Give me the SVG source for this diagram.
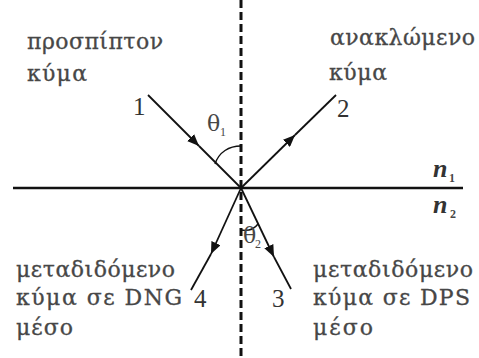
<svg xmlns="http://www.w3.org/2000/svg" width="479" height="358" viewBox="0 0 479 358">
<style>
.t{font-family:"DejaVu Serif","Liberation Serif",serif;font-size:22px;fill:#474747;stroke:#474747;stroke-width:0.3}
.d{font-family:"Liberation Serif","DejaVu Serif",serif;font-size:25px;fill:#333}
.th{font-family:"DejaVu Serif","Liberation Serif",serif;font-size:22px;fill:#474747}
.sub{font-family:"Liberation Serif","DejaVu Serif",serif;font-size:12px;fill:#474747}
.n{font-family:"Liberation Serif","DejaVu Serif",serif;font-size:26px;font-style:italic;font-weight:bold;fill:#333}
.ray{stroke:#111;stroke-width:1.8;fill:none}
.arc{stroke:#111;stroke-width:1.4;fill:none}
</style>
<defs>
<marker id="ah" viewBox="0 0 12 10" refX="12" refY="5" markerWidth="12" markerHeight="10" markerUnits="userSpaceOnUse" orient="auto">
<path d="M0,0 L12,5 L0,10 Z" fill="#111"/>
</marker>
</defs>
<rect width="479" height="358" fill="#fff"/>
<g id="axes">
<line x1="241" y1="0" x2="241" y2="358" stroke="#111" stroke-width="3" stroke-dasharray="8 4"/>
<line x1="13" y1="188" x2="463" y2="188" stroke="#111" stroke-width="2.6"/>
</g>
<g id="connectors">
<path class="ray" d="M148,95 L199,146" marker-end="url(#ah)"/>
<line class="ray" x1="199" y1="146" x2="241" y2="188"/>
<path class="ray" d="M241,188 L295,135" marker-end="url(#ah)"/>
<line class="ray" x1="295" y1="135" x2="336" y2="95"/>
<path class="ray" d="M241,188 L211,254" marker-end="url(#ah)"/>
<line class="ray" x1="211" y1="254" x2="191" y2="290"/>
<path class="ray" d="M241,188 L274,257" marker-end="url(#ah)"/>
<line class="ray" x1="274" y1="257" x2="291" y2="289"/>
<path class="arc" d="M215,164 C219,152 229,146 241,146"/>
<path class="arc" d="M241,230 Q252,232 258,224"/>
</g>
<g id="incident">
<text class="t" x="27" y="49" textLength="136">προσπίπτον</text>
<text class="t" x="27" y="81" textLength="60">κύμα</text>
<text class="d" x="133" y="115">1</text>
</g>
<g id="reflected">
<text class="t" x="330" y="45" textLength="145">ανακλώμενο</text>
<text class="t" x="329" y="80" textLength="58">κύμα</text>
<text class="d" x="337" y="117">2</text>
</g>
<g id="theta1">
<text class="th" x="207" y="131">θ</text>
<text class="sub" x="220" y="136">1</text>
</g>
<g id="theta2">
<text class="th" x="243" y="243">θ</text>
<text class="sub" x="255" y="248">2</text>
</g>
<g id="media">
<text class="n" x="433" y="177">n</text>
<text class="sub" x="449" y="182" font-weight="bold">1</text>
<text class="n" x="433" y="213">n</text>
<text class="sub" x="450" y="218" font-weight="bold">2</text>
</g>
<g id="dng">
<text class="t" x="16" y="277" textLength="159">μεταδιδόμενο</text>
<text class="t" x="16" y="305" textLength="166">κύμα σε DNG</text>
<text class="t" x="16" y="335" textLength="57">μέσο</text>
<text class="d" x="194" y="307">4</text>
</g>
<g id="dps">
<text class="t" x="313" y="277" textLength="160">μεταδιδόμενο</text>
<text class="t" x="313" y="305" textLength="157">κύμα σε DPS</text>
<text class="t" x="313" y="335" textLength="60">μέσο</text>
<text class="d" x="272" y="307">3</text>
</g>
</svg>
